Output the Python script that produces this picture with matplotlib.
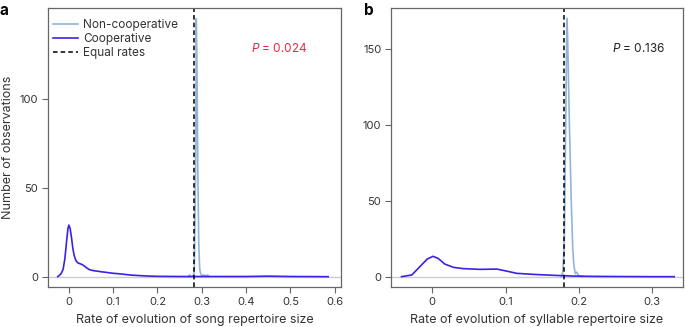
import matplotlib.pyplot as plt
import numpy as np

plt.rcParams['font.family'] = ['Inter', 'DejaVu Sans']
plt.rcParams['mathtext.fontset'] = 'custom'
plt.rcParams['mathtext.it'] = 'Inter:italic'
plt.rcParams['mathtext.rm'] = 'Inter'

# Panel a: song repertoire size
a_coop_x = [-0.025, -0.018, -0.013, -0.009, -0.005, -0.002, 0.0, 0.003, 0.006, 0.009, 0.012,
            0.016, 0.02, 0.025, 0.03, 0.035, 0.04, 0.046, 0.055, 0.062, 0.075, 0.085, 0.1,
            0.115, 0.126, 0.14, 0.16, 0.18, 0.2, 0.25, 0.3, 0.4, 0.45, 0.5, 0.585]
a_coop_y = [0, 1.5, 4, 10, 20, 27, 29, 27, 22, 16, 12,
            9, 7.8, 7.3, 6.8, 6, 5, 4, 3.4, 3.2, 2.7, 2.4, 1.9,
            1.6, 1.3, 0.9, 0.6, 0.35, 0.2, 0.1, 0.1, 0.1, 0.3, 0.1, 0]
a_nonc_x = [0.27, 0.272, 0.275, 0.28, 0.283, 0.286, 0.2875, 0.289, 0.291, 0.293, 0.295,
            0.297, 0.3, 0.305, 0.31, 0.313, 0.316]
a_nonc_y = [0, 1, 0, 0.5, 2, 60, 145, 120, 60, 20, 5,
            2, 0.5, 1, 0.2, 1, 0]
a_equal = 0.282
a_p = 'P = 0.024'

# Panel b: syllable repertoire size
b_coop_x = [-0.042, -0.028, -0.017, -0.007, 0.001, 0.008, 0.017, 0.029, 0.042, 0.065,
            0.088, 0.101, 0.115, 0.138, 0.165, 0.192, 0.22, 0.25, 0.3, 0.33]
b_coop_y = [0, 1.1, 6.6, 11.6, 13.4, 12, 8.3, 6.1, 5.3, 4.8,
            5, 3.7, 2.2, 1.5, 0.9, 0.4, 0.2, 0.1, 0, 0]
b_nonc_x = [0.176, 0.178, 0.18, 0.182, 0.1835, 0.1845, 0.187, 0.1895, 0.1915, 0.193,
            0.195, 0.197, 0.199, 0.2, 0.205]
b_nonc_y = [0, 3, 20, 100, 170, 160, 100, 50, 20, 8,
            2, 3, 1, 0.5, 0]
b_equal = 0.1795
b_p = 'P = 0.136'

coop_col = '#3b22e6'
nonc_col = '#93b4d8'
spine_col = '#666666'

fig = plt.figure(figsize=(6.85, 3.27), dpi=100)
ax1 = fig.add_axes([48/685, 40/327, 293/685, 279/327])
ax2 = fig.add_axes([391/685, 40/327, 292/685, 279/327])

panels = [
    (ax1, a_coop_x, a_coop_y, a_nonc_x, a_nonc_y, a_equal, a_p, '#e8264a',
     (-0.047, 0.614), (-5.8, 151), [0, 0.1, 0.2, 0.3, 0.4, 0.5, 0.6], [0, 50, 100],
     'Rate of evolution of song repertoire size', (0.410, 128.5)),
    (ax2, b_coop_x, b_coop_y, b_nonc_x, b_nonc_y, b_equal, b_p, '#222222',
     (-0.0564, 0.342), (-6.8, 176.8), [0, 0.1, 0.2, 0.3], [0, 50, 100, 150],
     'Rate of evolution of syllable repertoire size', (0.2447, 150)),
]

for ax, cx, cy, nx, ny, eq, ptxt, pcol, xl, yl, xt, yt, xlab, ppos in panels:
    ax.axhline(0, color='#cccccc', linewidth=1.0, zorder=0)
    ax.plot(nx, ny, color=nonc_col, linewidth=1.2, label='Non-cooperative')
    ax.plot(cx, cy, color=coop_col, linewidth=1.2, label='Cooperative')
    ax.axvline(eq, color='black', linestyle=(0, (3, 2)), linewidth=1.1, label='Equal rates')
    ax.set_xlim(xl)
    ax.set_ylim(yl)
    ax.set_xticks(xt)
    ax.set_xticklabels(['0' if v == 0 else f'{v:g}' for v in xt])
    ax.set_yticks(yt)
    ax.tick_params(direction='out', length=4, width=0.8, color=spine_col,
                   labelsize=8, labelcolor='#333333', pad=3)
    for s in ax.spines.values():
        s.set_color(spine_col)
        s.set_linewidth(0.9)
    ax.set_xlabel(xlab, fontsize=9, color='#333333', labelpad=5)
    p_label = r'$\it{P}$' + ptxt[1:]
    ax.text(ppos[0], ppos[1], p_label, color=pcol, fontsize=8.5, va='center', ha='left')

ax1.set_ylabel('Number of observations', fontsize=9, color='#333333')
ax1.yaxis.set_label_coords(-0.117, 0.5)
ax1.legend(loc='upper left', bbox_to_anchor=(5/293, 1 - 11/279), frameon=False, fontsize=8.5,
           handlelength=2.1, handletextpad=0.45, labelspacing=0.18, borderaxespad=0.0,
           borderpad=0.0, labelcolor='#333333')

fig.text(0.0, 0.99, 'a', fontsize=11, fontweight='bold', va='top', ha='left')
fig.text(364/685, 0.99, 'b', fontsize=11, fontweight='bold', va='top', ha='left')

fig.savefig('out.png', dpi=100)
